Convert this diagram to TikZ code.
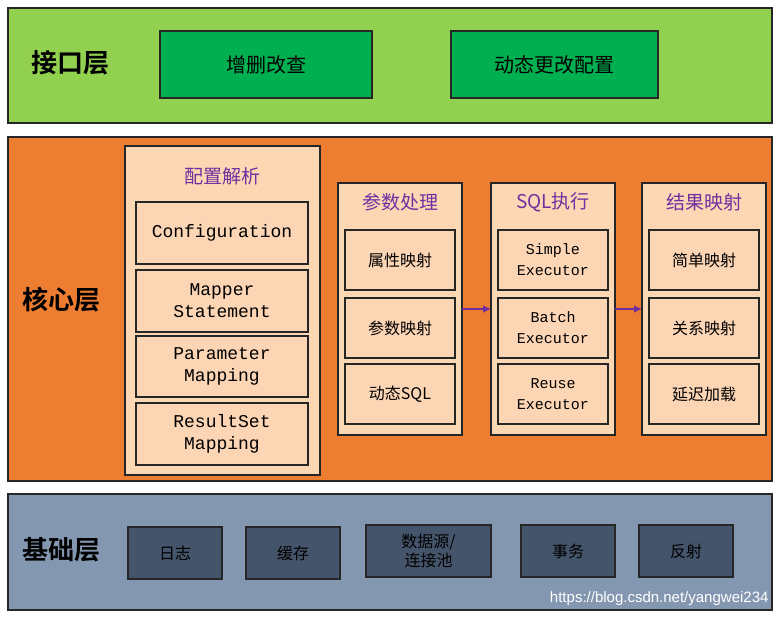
\documentclass[tikz,border=0pt]{standalone}
\usepackage{fontspec}
\usetikzlibrary{arrows.meta}
\setmainfont{Liberation Sans}
\newfontfamily\cjk{Noto Sans CJK SC}
\newfontfamily\cjkb{Noto Sans CJK SC Bold}
\newfontfamily\mono{Liberation Mono}
\begin{document}
\begin{tikzpicture}[x=1pt,y=-1pt,
 band/.style={draw=black!85,line width=1.3pt},
 gbox/.style={draw=black!85,line width=1.1pt,font=\cjk\fontsize{20}{24}\selectfont},
 dbox/.style={draw=black!85,fill=slate,line width=1.1pt,align=center,font=\cjk\fontsize{16}{19}\selectfont},
 lay/.style={font=\cjkb\fontsize{26}{30}\selectfont},
 ttl/.style={text=purple,font=\cjk\fontsize{19}{22}\selectfont},
 arr/.style={-{Latex[length=8pt,width=8pt]},purple,line width=2.5pt}]
\definecolor{slate}{HTML}{44546A}
\definecolor{purple}{HTML}{7030A0}
\useasboundingbox (0,0) rectangle (780,618);
\fill[white] (0,0) rectangle (780,618);
% top
\draw[band,fill={rgb,255:red,146;green,208;blue,80}] (8,8) rectangle (772,123);
\node[lay] (l1) at (70,63) {接口层};
\node[gbox,fill={rgb,255:red,0;green,176;blue,80},minimum width=212pt,minimum height=67pt] (g1) at (266,64.5) {增删改查};
\node[gbox,fill={rgb,255:red,0;green,176;blue,80},minimum width=207pt,minimum height=67pt] (g2) at (554.5,64.5) {动态更改配置};
% core
\draw[band,fill={rgb,255:red,237;green,125;blue,49}] (8,137) rectangle (772,481);
\node[lay] (l2) at (62,300) {核心层};
\tikzset{panel/.style={draw=black!85,fill={rgb,255:red,251;green,215;blue,180},line width=1.1pt},
 ibox/.style={draw=black!85,fill={rgb,255:red,252;green,213;blue,180},line width=1.1pt,align=center}}
\draw[panel] (125,146) rectangle (320,475);
\node[ttl] (t1) at (222.5,176) {配置解析};
\tikzset{mb/.style={ibox,minimum width=172pt,font=\mono\fontsize{18}{22}\selectfont}}
\node[mb,minimum height=62pt] (c1) at (222,233) {Configuration};
\node[mb,minimum height=62pt] (c2) at (222,301) {Mapper\\Statement};
\node[mb,minimum height=61pt] (c3) at (222,366.5) {Parameter\\Mapping};
\node[mb,minimum height=62pt] (c4) at (222,434) {ResultSet\\Mapping};
% panels
\foreach \x/\n in {338/p2,491/p3,642/p4}{\draw[panel] (\x,183) rectangle ++(124,252);}
\node[ttl] at (400,202) {参数处理};
\node[ttl] at (553,202) {SQL执行};
\node[ttl] at (704,202) {结果映射};
\tikzset{sb/.style={ibox,minimum width=110pt,minimum height=60pt,font=\cjk\fontsize{16}{19}\selectfont},
 eb/.style={ibox,minimum width=110pt,minimum height=60pt,font=\mono\fontsize{15}{21}\selectfont}}
\node[sb] (a1) at (400,260) {属性映射};
\node[sb] (a2) at (400,328) {参数映射};
\node[sb] (a3) at (400,394) {动态SQL};
\node[eb] (b1) at (553,260) {Simple\\Executor};
\node[eb] (b2) at (553,328) {Batch\\Executor};
\node[eb] (b3) at (553,394) {Reuse\\Executor};
\node[sb] (r1) at (704,260) {简单映射};
\node[sb] (r2) at (704,328) {关系映射};
\node[sb] (r3) at (704,394) {延迟加载};
\coordinate (p2e) at (462,309); \coordinate (p3w) at (491,309);
\coordinate (p3e) at (615,309); \coordinate (p4w) at (642,309);
\draw[arr] (p2e) -- (p3w);
\draw[arr] (p3e) -- (p4w);
% base
\draw[band,fill={rgb,255:red,132;green,151;blue,176}] (8,494) rectangle (772,610);
\node[lay] (l3) at (62,550) {基础层};
\node[dbox,minimum width=94pt,minimum height=52pt] (d1) at (175,553) {日志};
\node[dbox,minimum width=94pt,minimum height=52pt] (d2) at (293,553) {缓存};
\node[dbox,minimum width=125pt,minimum height=52pt] (d3) at (428.5,551) {数据源/\\连接池};
\node[dbox,minimum width=94pt,minimum height=52pt] (d4) at (568,551) {事务};
\node[dbox,minimum width=94pt,minimum height=52pt] (d5) at (686,551) {反射};
\node[text=white,font=\fontsize{15}{17}\selectfont,anchor=east] (wm) at (772,599) {https://blog.csdn.net/yangwei234};
\end{tikzpicture}
\end{document}
